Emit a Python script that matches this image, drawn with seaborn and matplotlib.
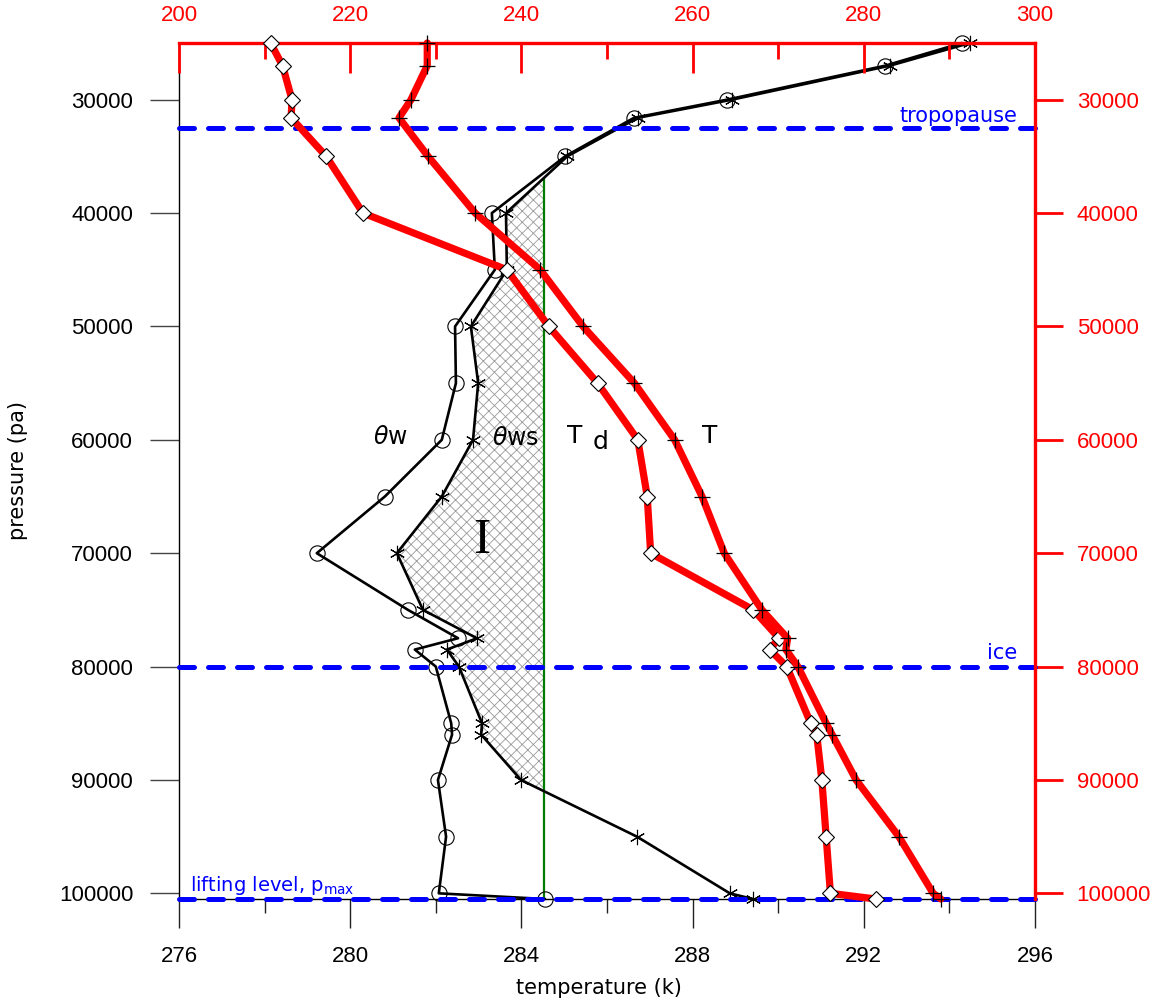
import numpy as np
import matplotlib
matplotlib.use("Agg")
import matplotlib.pyplot as plt
import seaborn as sns
from matplotlib.ticker import MultipleLocator

# ---------------- data ----------------
pressure = [25000, 27000, 30000, 31600, 35000, 40000, 45000, 50000, 55000, 60000,
            65000, 70000, 75000, 77500, 78500, 80000, 85000, 86000, 90000, 95000,
            100000, 100500]
theta_w = [294.29, 292.50, 288.80, 286.63, 285.02, 283.31, 283.38, 282.45, 282.47, 282.14,
           280.81, 279.22, 281.35, 282.52, 281.51, 282.00, 282.36, 282.38, 282.05, 282.24,
           282.07, 284.55]
theta_ws = [294.48, 292.61, 288.92, 286.72, 285.07, 283.64, 283.66, 282.82, 282.99, 282.87,
            282.14, 281.09, 281.70, 282.96, 282.26, 282.54, 283.08, 283.06, 283.99, 286.70,
            288.87, 289.41]
temp_T = [229.0, 229.0, 227.1, 225.7, 229.1, 234.6, 242.2, 247.2, 253.2, 257.9,
          261.1, 263.7, 268.1, 271.1, 270.9, 272.3, 275.6, 276.3, 279.1, 284.1,
          288.1, 289.0]
temp_Td = [210.7, 212.1, 213.2, 213.1, 217.2, 221.5, 238.3, 243.2, 248.9, 253.6,
           254.7, 255.1, 267.1, 270.1, 269.0, 271.0, 273.8, 274.5, 275.1, 275.6,
           276.1, 281.4]
theta_parcel = 284.53
tropopause_p = 32500
ice_p = 80000
lifting_p = 100500

xticks_bottom = [276, 280, 284, 288, 292, 296]
xticks_top = [200, 220, 240, 260, 280, 300]
yticks = [30000, 40000, 50000, 60000, 70000, 80000, 90000, 100000]

# ---------------- style ----------------
sns.set_style("white")
plt.rcParams['font.family'] = ['Liberation Sans', 'DejaVu Sans']
plt.rcParams['hatch.linewidth'] = 0.6
plt.rcParams['text.color'] = 'black'
plt.rcParams['axes.labelcolor'] = 'black'
WORD = ['DejaVu Sans']

fig = plt.figure(figsize=(11.6, 10.08), dpi=100)
ax = fig.add_axes([179 / 1160, 1 - 899 / 1008, 856 / 1160, 856 / 1008])
ax2 = ax.twiny()

# hatched region between theta_ws and parcel line
tw = np.array(theta_ws)
pp = np.array(pressure)
ax.fill_betweenx(pp, tw, theta_parcel, where=tw <= theta_parcel, interpolate=True,
                 facecolor='none', edgecolor='#9a9a9a', hatch='xxx', linewidth=0, zorder=1)

# green parcel line (top where theta_ws crosses it)
idx = np.where(tw <= theta_parcel)[0][0]
p_top = np.interp(theta_parcel, [tw[idx], tw[idx - 1]], [pp[idx], pp[idx - 1]])
ax.vlines(theta_parcel, p_top, lifting_p, color='#007a00', lw=1.6, zorder=2)

# black theta lines
sns.lineplot(x=theta_w, y=pressure, sort=False, estimator=None, ax=ax, color='black',
             lw=1.9, marker='o', markersize=11, markerfacecolor='none',
             markeredgecolor='black', markeredgewidth=0.8, zorder=3, clip_on=False)
sns.lineplot(x=theta_ws, y=pressure, sort=False, estimator=None, ax=ax, color='black',
             lw=1.9, marker=(6, 2, 0), markersize=11,
             markeredgecolor='black', markeredgewidth=0.8, zorder=3, clip_on=False)

# red temperature lines (top axis)
sns.lineplot(x=temp_Td, y=pressure, sort=False, estimator=None, ax=ax2, color='#ff0000',
             lw=5.2, marker='D', markersize=8, markerfacecolor='white',
             markeredgecolor='black', markeredgewidth=0.8, zorder=3, clip_on=False)
sns.lineplot(x=temp_T, y=pressure, sort=False, estimator=None, ax=ax2, color='#ff0000',
             lw=5.2, marker='+', markersize=12,
             markeredgecolor='black', markeredgewidth=0.9, zorder=3, clip_on=False)

# blue dashed levels
for lev in [tropopause_p, ice_p, lifting_p]:
    ax2.axhline(lev, color='#0000ff', lw=3.6, dashes=(3.0, 2.8),
                dash_capstyle='round', zorder=2, clip_on=False)

# limits
ax.set_xlim(276, 296)
ax2.set_xlim(200, 300)
ax.set_ylim(lifting_p, 25000)

# ticks
ax.set_xticks(xticks_bottom)
ax.xaxis.set_minor_locator(MultipleLocator(2))
ax.set_yticks(yticks)
ax2.set_xticks(xticks_top)
ax2.xaxis.set_minor_locator(MultipleLocator(10))

ax.tick_params(axis='x', which='major', direction='out', length=21, width=1.0,
               pad=13, labelsize=16, color='#222222', labelcolor='black', bottom=True)
ax.tick_params(axis='x', which='minor', direction='out', length=10, width=1.0,
               color='#222222', bottom=True)
ax.tick_params(axis='y', which='major', direction='out', length=21, width=1.0,
               pad=12, labelsize=16, color='#444444', labelcolor='black', left=True)
ax2.tick_params(axis='x', which='major', direction='in', length=21.5, width=2.0,
                pad=12, labelsize=16, color='#ff0000', labelcolor='#ff0000', top=True)
ax2.tick_params(axis='x', which='minor', direction='in', length=11.5, width=2.0,
                color='#ff0000', top=True)
ax2.yaxis.set_visible(True)
ax2.yaxis.tick_right()
ax2.tick_params(axis='y', which='major', direction='out', length=20, width=2.0,
                pad=10, labelsize=16, color='#ff0000', labelcolor='#ff0000',
                right=True, left=False, labelleft=False, labelright=True)
ax.yaxis.tick_left()

for s in ['top', 'right']:
    ax.spines[s].set_visible(False)
for s in ['left', 'bottom']:
    ax.spines[s].set_color('black')
    ax.spines[s].set_linewidth(1.0)
    ax2.spines[s].set_visible(False)
for s in ['top', 'right']:
    ax2.spines[s].set_color('#ff0000')
    ax2.spines[s].set_linewidth(2.4)

ax.grid(False)
ax2.grid(False)

# labels
ax.set_xlabel('temperature (k)', fontsize=15, family=WORD, color='black')
ax.xaxis.set_label_coords(0.49, -0.092)
ax.set_ylabel('pressure (pa)', fontsize=15, family=WORD, color='black')
ax.yaxis.set_label_coords(-0.176, 0.5)
ax2.set_xlabel('')
ax2.set_ylabel('')

# annotations
ax.text(295.58, 31940, 'tropopause', color='#0000ff', fontsize=15, family=WORD,
        ha='right', va='baseline', zorder=6)
ax.text(295.58, 79340, 'ice', color='#0000ff', fontsize=15, family=WORD,
        ha='right', va='baseline', zorder=6)
ax.text(276.26, 99780, r'lifting level, p$_{\mathregular{max}}$', color='#0000ff',
        fontsize=14, family=WORD, ha='left', va='baseline', zorder=6)

ax.text(280.53, 60400, r'$\theta$w', fontsize=17, family=WORD, ha='left', va='baseline')
ax.text(283.31, 60450, r'$\theta$ws', fontsize=17, family=WORD, ha='left', va='baseline')
ax.text(285.07, 60300, 'T', fontsize=18, family=WORD, ha='left', va='baseline')
ax.text(285.66, 60800, 'd', fontsize=18, family=WORD, ha='left', va='baseline')
ax.text(288.22, 60300, 'T', fontsize=18, family=WORD, ha='left', va='baseline')
ax.text(283.08, 70000, 'I', fontsize=37, family=['Liberation Serif', 'DejaVu Serif'],
        ha='center', va='baseline')

fig.savefig('out.png', dpi=100)
